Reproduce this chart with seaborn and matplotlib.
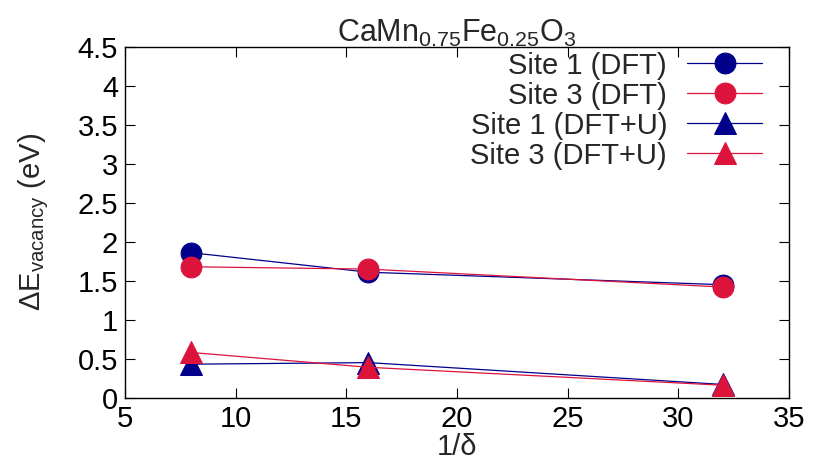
import matplotlib
matplotlib.use("Agg")
import matplotlib.pyplot as plt
import seaborn as sns
import pandas as pd

x_vals = [8, 16, 32]
site1_dft = [1.86, 1.61, 1.45]
site3_dft = [1.68, 1.65, 1.42]
site1_dftu = [0.43, 0.45, 0.17]
site3_dftu = [0.58, 0.39, 0.16]
labels = ["Site 1 (DFT)", "Site 3 (DFT)", "Site 1 (DFT+U)", "Site 3 (DFT+U)"]
colors = ["#00008B", "#DC143C", "#00008B", "#DC143C"]
markers = ["o", "o", "^", "^"]

sns.set_theme(style="ticks")
plt.rcParams['font.family'] = ['Liberation Sans', 'DejaVu Sans']
plt.rcParams['mathtext.fontset'] = 'custom'
plt.rcParams['mathtext.rm'] = 'Liberation Sans'
plt.rcParams['mathtext.it'] = 'Liberation Sans'
plt.rcParams['mathtext.default'] = 'regular'

FS = 21
fig = plt.figure(figsize=(8.13, 4.66), dpi=100)
ax = fig.add_axes([0.1538, 0.1466, 0.8167, 0.7525])

series = [site1_dft, site3_dft, site1_dftu, site3_dftu]
for lab, vals, c, m in zip(labels, series, colors, markers):
    df = pd.DataFrame({"x": x_vals, "y": vals})
    sns.lineplot(data=df, x="x", y="y", ax=ax, color=c, marker=m,
                 markersize=15 if m == "o" else 16, markeredgecolor=c,
                 linewidth=0.9, label=lab)

ax.set_xlim(5, 35)
ax.set_ylim(0, 4.5)
ax.set_xticks(range(5, 36, 5))
ax.set_yticks([0, 0.5, 1, 1.5, 2, 2.5, 3, 3.5, 4, 4.5])
ax.set_yticklabels(["0", "0.5", "1", "1.5", "2", "2.5", "3", "3.5", "4", "4.5"])
ax.tick_params(direction="in", top=True, right=True, length=7, width=0.8,
               labelsize=FS, colors="black", pad=5)
for s in ax.spines.values():
    s.set_linewidth(1.0)
    s.set_color("black")

ax.set_xlabel("1/δ", fontsize=FS, labelpad=0)
ax.set_ylabel(r"ΔE$_{vacancy}$ (eV)", fontsize=FS, labelpad=19)
ax.set_title(r"CaMn$_{0.75}$Fe$_{0.25}$O$_{3}$", fontsize=22, pad=4)

leg = ax.legend(loc="upper right", frameon=False, markerfirst=False,
                fontsize=FS, handlelength=2.55, labelspacing=0.07,
                borderaxespad=0.0, borderpad=0.0, handletextpad=0.7,
                bbox_to_anchor=(0.959, 0.987))
for t in leg.get_texts():
    t.set_ha("right")
leg._legend_box.align = "right"

fig.savefig("out.png", dpi=100)
